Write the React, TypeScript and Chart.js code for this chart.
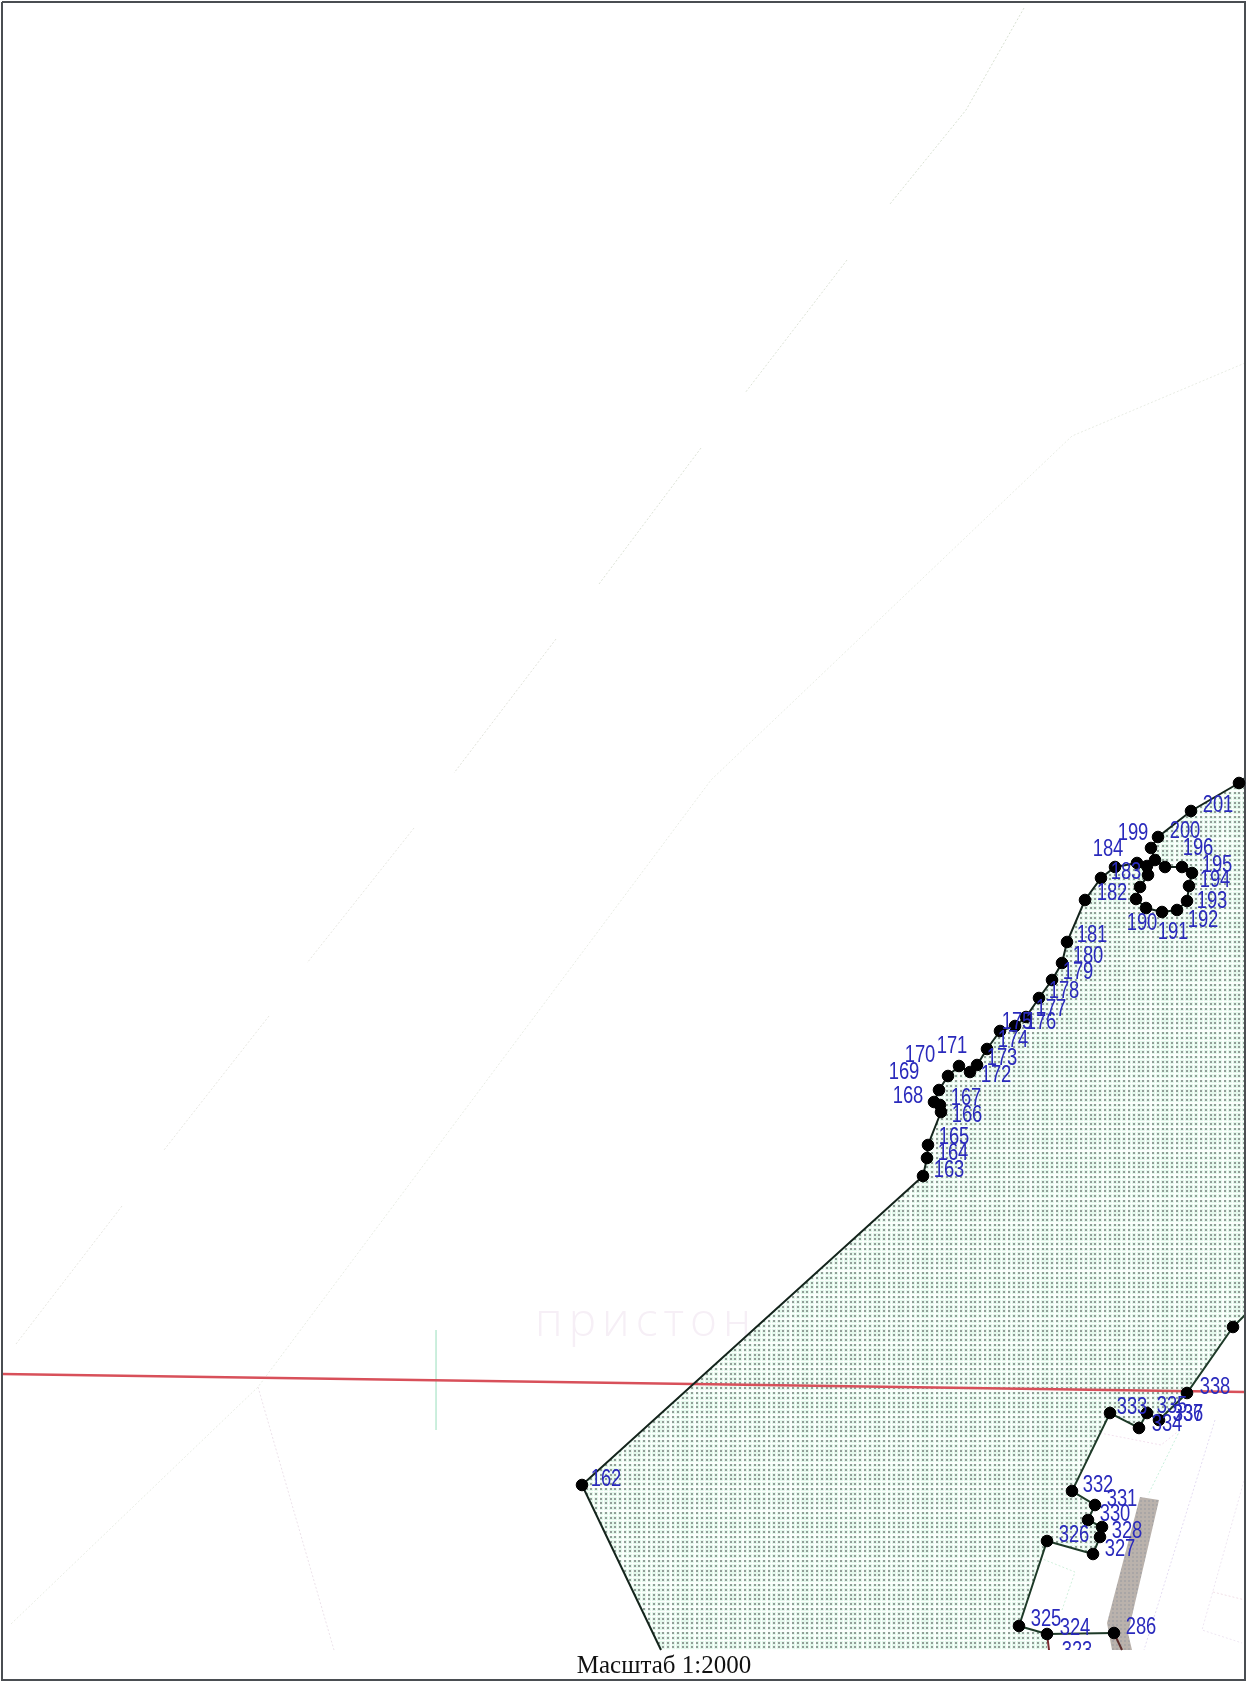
import React, { useEffect, useRef } from "react";
import { Chart, registerables } from "chart.js";

Chart.register(...registerables);

// --- boundary vertices, map units, 162 .. 202
const northX = [582, 923, 927, 928, 941, 940, 934, 939, 948, 959, 970, 977, 987, 1000, 1015, 1026, 1039, 1052, 1062, 1067, 1085, 1101, 1115, 1137, 1147, 1148, 1140, 1136, 1146, 1162, 1177, 1187, 1189, 1192, 1182, 1165, 1155, 1151, 1158, 1191, 1239];
const northY = [1485, 1176, 1158, 1145, 1112, 1105, 1102, 1090, 1076, 1066, 1072, 1065, 1049, 1031, 1026, 1017, 998, 980, 963, 942, 900, 878, 867, 863, 866, 875, 887, 899, 908, 912, 910, 901, 886, 873, 867, 867, 860, 848, 837, 811, 783];
// --- boundary vertices 339 .. 324, then 286
const southX = [1233, 1187, 1159, 1147, 1139, 1110, 1072, 1095, 1088, 1102, 1100, 1093, 1047, 1019, 1047, 1114];
const southY = [1327, 1393, 1420, 1413, 1428, 1413, 1491, 1505, 1520, 1527, 1537, 1554, 1541, 1626, 1634, 1633];
// --- ring inside the boundary
const ringX = [1147, 1148, 1140, 1136, 1146, 1162, 1177, 1187, 1189, 1192, 1182, 1165, 1155];
const ringY = [866, 875, 887, 899, 908, 912, 910, 901, 886, 873, 867, 867, 860];
// --- boundary stubs without vertices
const northEndX = [1239, 1245];
const northEndY = [783, 778];
const southEndX = [1245, 1233];
const southEndY = [1315, 1327];
const westEndX = [582, 661];
const westEndY = [1485, 1650];
const stem323X = [1047, 1049];
const stem323Y = [1634, 1650];
const stem286X = [1114, 1122];
const stem286Y = [1633, 1650];
// --- hatched zone closing points
const zoneCloseX = [1245, 1245];
const zoneCloseY = [778, 1315];
const zoneBottomX = [1047, 661];
const zoneBottomY = [1650, 1650];
// --- grey strip
const stripX = [1140, 1159, 1128, 1132, 1112, 1107];
const stripY = [1497, 1500, 1633, 1650, 1650, 1623];
// --- red line
const redX = [2, 1245];
const redY = [1374, 1392];
// --- faint map lines
const faintLines: [number[], number[], string][] = [
  [[1024, 966, 890], [8, 110, 204], "#d8e0d2"],
  [[847, 745], [260, 393], "#dce2d6"],
  [[701, 599], [448, 584], "#dce2d6"],
  [[556, 454], [639, 773], "#e0e2da"],
  [[414, 307], [828, 963], "#e6e6e0"],
  [[269, 164], [1016, 1150], "#e6e6e0"],
  [[122, 16], [1206, 1344], "#e6e6e0"],
  [[1245, 1072, 711, 258, 11], [363, 436, 780, 1387, 1624], "#e8ece4"],
  [[258, 334], [1387, 1650], "#ece2ea"],
  [[1180, 1148], [1430, 1495], "#c8f0dc"],
  [[1215, 1144], [1420, 1650], "#e4dcf2"],
  [[1040, 1075, 1062], [1558, 1572, 1610], "#d0f0dc"],
  [[1100, 1161, 1180], [1433, 1445, 1430], "#f2e0ee"],
  [[1245, 1202, 1242], [1477, 1630, 1643], "#eee6f2"],
  [[1213, 1245], [1592, 1600], "#f0dfe6"],
  [[1170, 1190, 1215, 1243], [950, 973, 950, 933], "#d0f0dc"],
  [[1243, 1213], [823, 847], "#d0f0dc"],
];
// --- pale green tick on the left
const tickX = [436, 436];
const tickY = [1330, 1430];
// --- frame
const frameX = [2, 1245, 1245, 2, 2];
const frameY = [2, 2, 1680, 1680, 2];
// --- blue vertex labels
const labelTexts = ["162", "163", "164", "165", "166", "167", "168", "169", "170", "171", "172", "173", "174", "175", "176", "177", "178", "179", "180", "181", "182", "183", "184", "190", "191", "192", "193", "194", "195", "196", "199", "200", "201", "338", "337", "336", "335", "334", "333", "332", "331", "330", "328", "327", "326", "325", "324", "323", "286"];
const labelX = [606, 949, 953, 954, 967, 966, 908, 904, 920, 952, 996, 1002, 1013, 1017, 1041, 1051, 1064, 1078, 1088, 1092, 1112, 1126, 1108, 1142, 1173, 1203, 1212, 1215, 1217, 1198, 1133, 1185, 1218, 1215, 1188, 1188, 1172, 1167, 1132, 1098, 1122, 1115, 1127, 1120, 1074, 1046, 1075, 1077, 1141];
const labelY = [1480, 1171, 1154, 1138, 1116, 1099, 1097, 1073, 1056, 1047, 1076, 1059, 1041, 1023, 1023, 1010, 992, 973, 957, 936, 894, 873, 850, 924, 933, 921, 902, 881, 866, 849, 834, 832, 806, 1388, 1415, 1415, 1407, 1425, 1408, 1486, 1500, 1515, 1532, 1550, 1536, 1620, 1629, 1652, 1628];
// --- captions
const scaleCaption = "Масштаб 1:2000";
const scaleCaptionAt = [664, 1666];
const ghostCaption = "пристон";
const ghostCaptionAt = [535, 1323];

const pts = (xs: number[], ys: number[]) => xs.map((x, i) => ({ x, y: ys[i] }));

function dotPattern(ctx: CanvasRenderingContext2D) {
  const tile = document.createElement("canvas");
  tile.width = 24;
  tile.height = 24;
  const t = tile.getContext("2d")!;
  t.fillStyle = "#fbfefc";
  t.fillRect(0, 0, 24, 24);
  const steps = [0, 5, 10, 14, 19];
  t.fillStyle = "#e4f8ec";
  for (const a of steps) for (const b of steps) t.fillRect(b - 1, a - 1, 4, 4);
  t.fillStyle = "#929e98";
  for (const a of steps) for (const b of steps) t.fillRect(b, a, 2, 2);
  return ctx.createPattern(tile, "repeat")!;
}

function gridPattern(ctx: CanvasRenderingContext2D) {
  const tile = document.createElement("canvas");
  tile.width = 4;
  tile.height = 4;
  const t = tile.getContext("2d")!;
  t.fillStyle = "#bab2ac";
  t.fillRect(0, 0, 4, 4);
  t.fillStyle = "#a9a6a6";
  t.fillRect(0, 0, 2, 2);
  return ctx.createPattern(tile, "repeat")!;
}

const captionPlugin = {
  id: "captions",
  beforeDatasetsDraw(chart: any) {
    const { ctx, scales } = chart;
    ctx.save();
    ctx.fillStyle = "#f6eff6";
    ctx.font = '300 46px "Open Sans", sans-serif';
    ctx.textBaseline = "middle";
    ctx.textAlign = "left";
    (ctx as any).letterSpacing = "6px";
    ctx.fillText(ghostCaption, scales.x.getPixelForValue(ghostCaptionAt[0]), scales.y.getPixelForValue(ghostCaptionAt[1]));
    ctx.restore();
  },
  afterDatasetsDraw(chart: any) {
    const { ctx, scales } = chart;
    ctx.save();
    ctx.beginPath();
    ctx.rect(0, 0, 1245, scales.y.getPixelForValue(1650));
    ctx.clip();
    ctx.fillStyle = "#2a2abc";
    ctx.font = '23px "Liberation Sans", "Roboto", sans-serif';
    ctx.textAlign = "center";
    ctx.textBaseline = "middle";
    labelTexts.forEach((s, i) => {
      ctx.save();
      ctx.translate(scales.x.getPixelForValue(labelX[i]), scales.y.getPixelForValue(labelY[i]));
      ctx.scale(0.8, 1);
      ctx.fillText(s, 0, 0);
      ctx.restore();
    });
    ctx.restore();
    ctx.save();
    ctx.fillStyle = "#111";
    ctx.font = '25px "Liberation Serif", serif';
    ctx.textAlign = "center";
    ctx.textBaseline = "middle";
    ctx.fillText(scaleCaption, scales.x.getPixelForValue(scaleCaptionAt[0]), scales.y.getPixelForValue(scaleCaptionAt[1]));
    ctx.restore();
  },
};

export default function App() {
  const ref = useRef<HTMLCanvasElement>(null);
  useEffect(() => {
    const canvas = ref.current!;
    const ctx = canvas.getContext("2d")!;
    const line = (xs: number[], ys: number[], color: string, width: number, order: number, dash: number[] = []) => ({
      type: "line" as const,
      data: pts(xs, ys),
      borderColor: color,
      borderWidth: width,
      borderDash: dash,
      pointRadius: 0,
      fill: false,
      tension: 0,
      order,
    });
    const zone = {
      type: "line" as const,
      data: pts(
        [...northX, ...zoneCloseX, ...southX.slice(0, 15), ...zoneBottomX, northX[0]],
        [...northY, ...zoneCloseY, ...southY.slice(0, 15), ...zoneBottomY, northY[0]]
      ),
      borderWidth: 0,
      pointRadius: 0,
      fill: "shape",
      backgroundColor: dotPattern(ctx),
      tension: 0,
      order: 90,
    };
    const ring = {
      type: "line" as const,
      data: pts(ringX, ringY),
      borderWidth: 0,
      pointRadius: 0,
      fill: "shape",
      backgroundColor: "#ffffff",
      tension: 0,
      order: 80,
    };
    const strip = {
      type: "line" as const,
      data: pts([...stripX, stripX[0]], [...stripY, stripY[0]]),
      borderWidth: 0,
      pointRadius: 0,
      fill: "shape",
      backgroundColor: gridPattern(ctx),
      tension: 0,
      order: 70,
    };
    const chart = new Chart(canvas, {
      type: "scatter",
      data: {
        datasets: [
          {
            type: "scatter" as const,
            data: pts([...northX, ...southX], [...northY, ...southY]),
            backgroundColor: "#000",
            borderColor: "#000",
            pointRadius: 5.8,
            order: 1,
          },
          line(northX, northY, "#14241c", 2, 10),
          line(northEndX, northEndY, "#14241c", 2, 10),
          line(southX, southY, "#1e3a28", 2, 10),
          line(southEndX, southEndY, "#1e3a28", 2, 10),
          line(westEndX, westEndY, "#14241c", 2, 10),
          line(stem323X, stem323Y, "#7a2a30", 2, 10),
          line(stem286X, stem286Y, "#5a2a28", 2, 10),
          line(redX, redY, "#d8505a", 2.5, 20),
          line(frameX, frameY, "#4a4e52", 2, 5),
          zone,
          ring,
          strip,
          line(tickX, tickY, "#c4ecd8", 1, 100),
          ...faintLines.map(([xs, ys, c]) => line(xs, ys, c, 1, 100, [2, 2])),
        ] as any,
      },
      options: {
        responsive: false,
        animation: false,
        devicePixelRatio: 1,
        layout: { padding: 0, autoPadding: false },
        plugins: { legend: { display: false }, tooltip: { enabled: false } },
        scales: {
          x: { type: "linear", min: 0, max: 1249, display: false },
          y: { type: "linear", min: 0, max: 1686, reverse: true, display: false },
        },
      },
      plugins: [captionPlugin as any],
    });
    return () => chart.destroy();
  }, []);
  return (
    <canvas
      ref={ref}
      width={1249}
      height={1686}
      style={{ position: "absolute", left: 0, top: 0, display: "block", width: 1249, height: 1686 }}
    />
  );
}
